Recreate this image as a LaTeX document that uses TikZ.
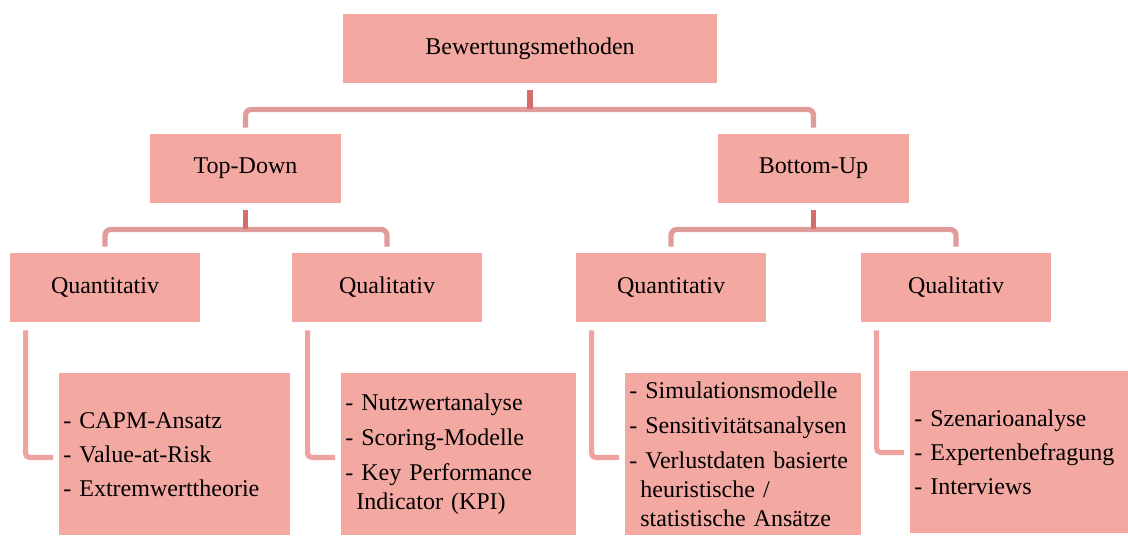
\documentclass[tikz,border=0pt]{standalone}
\usepackage{fontspec}
\setmainfont{Liberation Serif}
\usepackage{xcolor}
\usepackage{tikz}
\usetikzlibrary{calc,positioning}
\definecolor{bwsalmon}{HTML}{F3A8A2}
\definecolor{bwrose}{HTML}{E09C9B}
\definecolor{bwred}{HTML}{D66C6A}
\definecolor{bwpink}{HTML}{EFA3A1}

\tikzset{
    box/.style={rectangle, fill=bwsalmon, inner sep=0pt, minimum height=34.5pt, font=\fontsize{12pt}{14.5pt}\selectfont},
    leafbox/.style={rectangle, fill=bwsalmon, anchor=north west, inner xsep=2pt, inner ysep=0pt, minimum height=81pt, text width=#1, align=left, font=\fontsize{12pt}{14.5pt}\selectfont},
    bar/.style={draw=bwrose, line width=2.6pt, rounded corners=3pt},
    stub/.style={draw=bwred, line width=2.6pt},
    link/.style={draw=bwpink, line width=2.6pt, rounded corners=2pt}
}

\begin{document}
\begin{tikzpicture}[x=0.5pt, y=-0.5pt]
        \useasboundingbox (0,0) rectangle (1128,535);

        % ----------------------------------------------------
        % Ebene 1 und 2
        % ----------------------------------------------------
        \node[box, minimum width=187pt] (root) at (530, 48.5) {Bewertungsmethoden};
        \node[box, minimum width=95.5pt] (topdown) at (245.5, 168.5) {Top-Down};
        \node[box, minimum width=95.5pt] (bottomup) at (813.5, 168.5) {Bottom-Up};

        % ----------------------------------------------------
        % Ebene 3
        % ----------------------------------------------------
        \node[box, minimum width=95pt] (tdquant) at (105, 287.5) {Quantitativ};
        \node[box, minimum width=95pt] (tdqual) at (387, 287.5) {Qualitativ};
        \node[box, minimum width=95pt] (buquant) at (671, 287.5) {Quantitativ};
        \node[box, minimum width=95pt] (buqual) at (956, 287.5) {Qualitativ};

        % ----------------------------------------------------
        % Methoden
        % ----------------------------------------------------
        \node[leafbox=111.5pt] (tdquantlist) at (59, 373) {%
            - CAPM-Ansatz\\[2.5pt]
            - Value-at-Risk\\[2.5pt]
            - Extremwerttheorie};
        \node[leafbox=113.5pt] (tdquallist) at (341, 373) {%
            - Nutzwertanalyse\\[3pt]
            - Scoring-Modelle\\[3pt]
            - Key Performance\\
            \hspace*{5.5pt}Indicator (KPI)};
        \node[leafbox=114pt] (buquantlist) at (625, 373) {%
            - Simulationsmodelle\\[3pt]
            - Sensitivitätsanalysen\\[3pt]
            - Verlustdaten basierte\\
            \hspace*{5.5pt}heuristische /\\
            \hspace*{5.5pt}statistische Ansätze};
        \node[leafbox=105pt, anchor=north west] (buquallist) at (910, 371) {%
            - Szenarioanalyse\\[2.5pt]
            - Expertenbefragung\\[2.5pt]
            - Interviews};

        % ----------------------------------------------------
        % Verbindungen
        % ----------------------------------------------------
        \coordinate (rootjoin) at ($(root.south)+(0,26)$);
        \draw[bar] ($(topdown.north)+(0,-6)$) |- (rootjoin) -| ($(bottomup.north)+(0,-6)$);
        \draw[stub] ($(root.south)+(0,7)$) -- (rootjoin);

        \coordinate (tdjoin) at ($(topdown.south)+(0,26)$);
        \draw[bar] ($(tdquant.north)+(0,-6)$) |- (tdjoin) -| ($(tdqual.north)+(0,-6)$);
        \draw[stub] ($(topdown.south)+(0,7)$) -- (tdjoin);

        \coordinate (bujoin) at ($(bottomup.south)+(0,26)$);
        \draw[bar] ($(buquant.north)+(0,-6)$) |- (bujoin) -| ($(buqual.north)+(0,-6)$);
        \draw[stub] ($(bottomup.south)+(0,7)$) -- (bujoin);

        \draw[link] ($(tdquant.south west)+(16,8)$) |- ($(tdquantlist.west)+(-6,3)$);
        \draw[link] ($(tdqual.south west)+(16,8)$) |- ($(tdquallist.west)+(-6,3)$);
        \draw[link] ($(buquant.south west)+(16,8)$) |- ($(buquantlist.west)+(-6,3)$);
        \draw[link] ($(buqual.south west)+(16,8)$) |- ($(buquallist.west)+(-6,0)$);
\end{tikzpicture}
\end{document}
